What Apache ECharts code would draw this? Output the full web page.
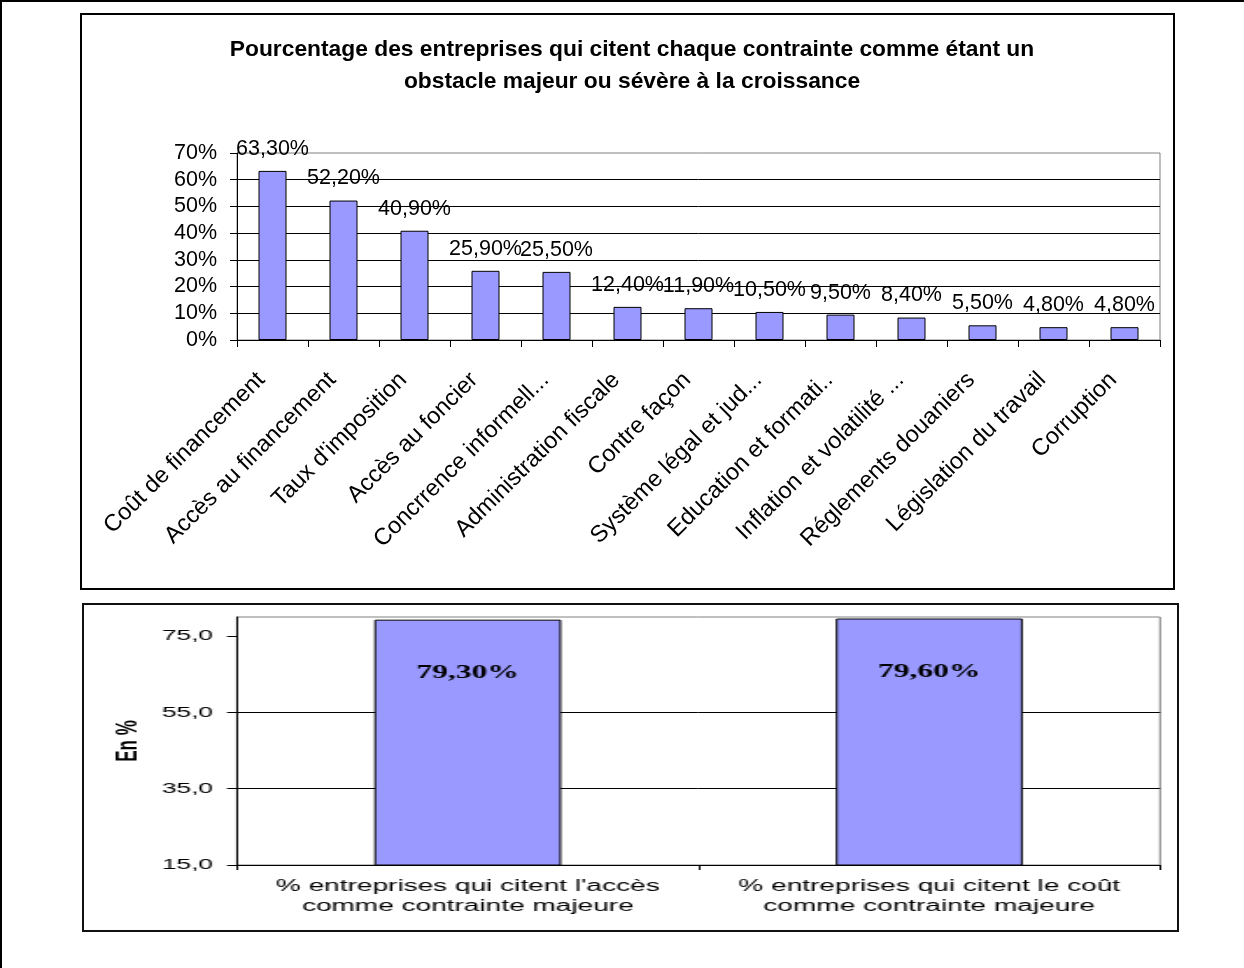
<!DOCTYPE html>
<html><head><meta charset="utf-8">
<script src="https://cdn.jsdelivr.net/npm/echarts@6/dist/echarts.min.js"></script>
<style>
html,body{margin:0;padding:0;background:#fff;width:1244px;height:968px;overflow:hidden;}
#frame{position:absolute;left:0;top:0;width:1244px;height:968px;box-sizing:border-box;border-left:2px solid #000;border-top:2px solid #000;}
#box1{position:absolute;left:80px;top:13px;width:1095px;height:577px;box-sizing:border-box;border:2px solid #000;}
#box2{position:absolute;left:82px;top:603px;width:1097px;height:329px;box-sizing:border-box;border:2px solid #111;}
#c1{position:absolute;left:0;top:0;width:1244px;height:600px;}
#c2{position:absolute;left:84px;top:605px;width:624px;height:325px;transform:scaleX(1.7516);transform-origin:0 0;}
</style></head><body>
<div id="frame"></div><div id="box1"></div><div id="box2"></div>
<div id="c1"></div><div id="c2"></div>
<script>
// ---- data ----
const categories = [
  "Coût de financement", "Accès au financement", "Taux d'imposition", "Accès au foncier",
  "Concrrence informell...", "Administration fiscale", "Contre façon", "Système légal et jud...",
  "Education et formati..", "Inflation et volatilité ...", "Réglements douaniers",
  "Législation du travail", "Corruption"
];
const values = [63.3, 52.2, 40.9, 25.9, 25.5, 12.4, 11.9, 10.5, 9.5, 8.4, 5.5, 4.8, 4.8];

const summaryCategories = [
  "% entreprises qui citent l'accès\ncomme contrainte majeure",
  "% entreprises qui citent le coût\ncomme contrainte majeure"
];
const summaryValues = [79.3, 79.6];
const summaryTicks = [15, 35, 55, 75];

const titleText = "Pourcentage des entreprises qui citent chaque contrainte comme étant un\nobstacle majeur ou sévère à la croissance";

// ---- helpers ----
const pct = v => v.toFixed(2).replace('.', ',') + '%';
const FONT = 'Liberation Sans, Arial, sans-serif';

const chart1 = echarts.init(document.getElementById('c1'));
chart1.setOption({
  animation: false,
  title: {
    text: titleText, left: 627, top: 29, textAlign: 'center',
    textStyle: {fontFamily: FONT, fontWeight: 'bold', fontSize: 22.8, lineHeight: 32, color: '#000'}
  },
  grid: {left: 237, right: 84, top: 153, bottom: 260, show: true, borderColor: '#808080', borderWidth: 1},
  xAxis: {
    type: 'category', data: categories, boundaryGap: true,
    axisLine: {lineStyle: {color: '#000', width: 1}},
    axisTick: {show: true, length: 7, lineStyle: {color: '#000'}},
    axisLabel: {rotate: 45, interval: 0, margin: 25, padding: [0, 16, 0, 0], fontSize: 23.5, color: '#000', fontFamily: FONT}
  },
  yAxis: {
    type: 'value', min: 0, max: 70, interval: 10,
    axisLine: {show: true, lineStyle: {color: '#000'}},
    axisTick: {show: true, length: 7, lineStyle: {color: '#000'}},
    axisLabel: {formatter: v => v + '%', fontSize: 21.5, color: '#000', margin: 20, fontFamily: FONT},
    splitLine: {show: true, showMaxLine: false, lineStyle: {color: '#000', width: 1}}
  },
  series: [{
    type: 'bar', data: values, barWidth: 28,
    itemStyle: {color: '#9999FF', borderColor: '#000', borderWidth: 1},
    label: {show: true, position: 'top', distance: 11, formatter: p => pct(p.value),
      fontSize: 21.5, color: '#000', fontFamily: FONT}
  }]
});

const chart2 = echarts.init(document.getElementById('c2'));
chart2.setOption({
  animation: false,
  grid: {left: 87.35, right: 9.7, top: 12, bottom: 65, show: true, borderColor: '#808080', borderWidth: 1},
  xAxis: {
    type: 'category', data: summaryCategories, boundaryGap: true,
    axisLine: {lineStyle: {color: '#000'}},
    axisTick: {show: true, length: 5, lineStyle: {color: '#000'}},
    axisLabel: {interval: 0, margin: 12, fontSize: 16, lineHeight: 20, color: '#000', fontFamily: FONT}
  },
  yAxis: {
    type: 'value', min: 15, max: 80,
    name: 'En %', nameLocation: 'middle', nameRotate: 90, nameGap: 49,
    nameTextStyle: {fontSize: 17, fontWeight: 'bold', color: '#000', fontFamily: FONT},
    axisLine: {show: true, lineStyle: {color: '#000'}},
    axisTick: {show: true, length: 5.7, customValues: summaryTicks, lineStyle: {color: '#000'}},
    axisLabel: {customValues: summaryTicks, formatter: v => v.toFixed(1).replace('.', ','),
      fontSize: 15, margin: 13.7, color: '#000', fontFamily: FONT},
    splitLine: {show: true, showMaxLine: false, lineStyle: {color: '#000'}}
  },
  series: [{
    type: 'bar', data: summaryValues, barWidth: '40.5%',
    itemStyle: {color: '#9999FF', borderColor: '#000', borderWidth: 1},
    label: {show: true, position: 'insideTop', distance: 45, formatter: p => pct(p.value),
      fontSize: 18, fontWeight: 'bold', fontFamily: 'Liberation Serif, Times New Roman, serif', color: '#000'}
  }]
});
</script>
</body></html>
